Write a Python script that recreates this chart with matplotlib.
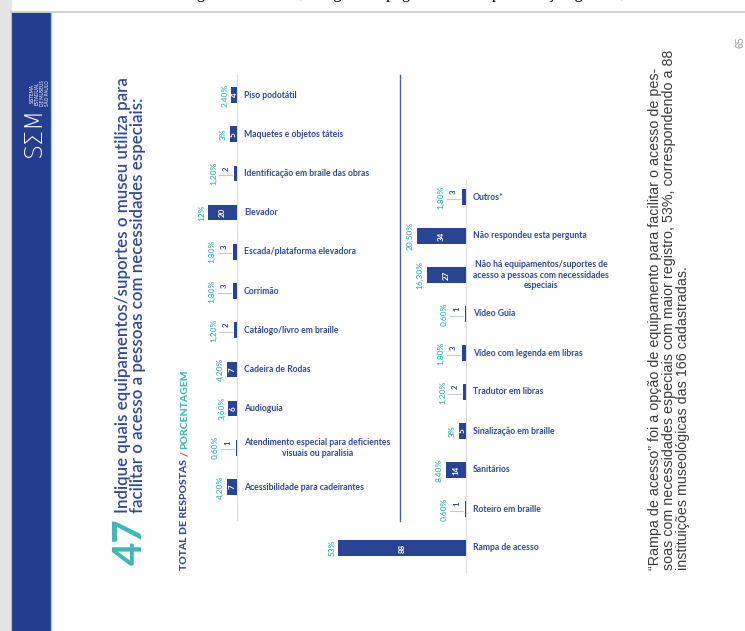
import matplotlib
matplotlib.use("Agg")
import matplotlib.pyplot as plt
from matplotlib.patches import Rectangle

# ---------------- data ----------------
left_cats = ["Piso podotátil", "Maquetes e objetos táteis", "Identificação em braile das obras",
             "Elevador", "Escada/plataforma elevadora", "Corrimão", "Catálogo/livro em braille",
             "Cadeira de Rodas", "Audioguia",
             "Atendimento especial para deficientes\nvisuais ou paralisia",
             "Acessibilidade para cadeirantes"]
left_vals = [4, 5, 2, 20, 3, 3, 2, 7, 6, 1, 7]
left_pcts = ["2,40%", "3%", "1,20%", "12%", "1,80%", "1,80%", "1,20%", "4,20%", "3,60%", "0,60%", "4,20%"]

right_cats = ["Outros*", "Não respondeu esta pergunta",
              "Não há equipamentos/suportes de\nacesso a pessoas com necessidades\nespeciais",
              "Vídeo Guia", "Vídeo com legenda em libras", "Tradutor em libras",
              "Sinalização em braille", "Sanitários", "Roteiro em braille", "Rampa de acesso"]
right_vals = [3, 34, 27, 1, 3, 2, 5, 14, 1, 88]
right_pcts = ["1,80%", "20,50%", "16,30%", "0,60%", "1,80%", "1,20%", "3%", "8,40%", "0,60%", "53%"]

title_num = "47"
title_text = ("Indique quais equipamentos/suportes o museu utiliza para\n"
              "facilitar o acesso a pessoas com necessidades especiais:")
paragraph = ("\u201cRampa de acesso\u201d foi a opção de equipamento para facilitar o acesso de pes-\n"
             "soas com necessidades especiais com maior registro, 53%, correspondendo a 88\n"
             "instituições museológicas das 166 cadastradas.")
page_num = "65"

# ---------------- style ----------------
W, H = 745, 631
BAR = "#2a4494"
LABEL = "#30489a"
TEAL = "#3fb7b4"
FONT = "Lato"
PXU = 1.45  # pixels per unit of value

fig = plt.figure(figsize=(W / 100, H / 100), dpi=100)
fig.patch.set_facecolor("white")

bg = fig.add_axes([0, 0, 1, 1])
bg.set_xlim(0, W)
bg.set_ylim(H, 0)
bg.axis("off")

# page frame
bg.add_patch(Rectangle((0, 0), 11, H, color="#e4e4e4", zorder=0))
bg.plot([11, 11], [12, H], color="#bdbdbd", lw=0.8)
bg.plot([11, W], [12, 12], color="#c8c8c8", lw=1.2)
bg.add_patch(Rectangle((12, 13), 38, H, color="#253d8e", zorder=1))
bg.plot([50.5, 50.5], [13, H], color="#7fd3d6", lw=1.0, zorder=2)

# clipped caption of previous line (only descenders visible, as in the reference)
bg.text(150, -2.5, "Fonte: guia de museus; imagem da página com a representação gráfica,",
        family="Liberation Serif", fontsize=12, color="black", va="baseline", ha="left")

# logo
bg.text(34, 157, "S\u03a3M", rotation=90, color="white", fontsize=17, family="DejaVu Sans",
        ha="center", va="bottom", fontweight="light")
bg.text(40, 106, "SISTEMA\nESTADUAL\nDE MUSEUS\nSÃO PAULO", rotation=90, color="white",
        fontsize=3.3, family=FONT, ha="center", va="bottom", linespacing=1.0)

# title
bg.text(112, 565, title_num, rotation=90, color=TEAL, fontsize=29, family=FONT,
        fontweight="bold", ha="left", va="bottom")
bg.text(115, 513, title_text, rotation=90, color="#2f4a9a", fontsize=12.2, family=FONT,
        fontweight="semibold", ha="left", va="bottom", linespacing=0.9, multialignment="left")

# subtitle in three colours
fig.canvas.draw()
r = fig.canvas.get_renderer()
y = 570
for s, c in [("TOTAL DE RESPOSTAS ", "#2f4a9a"), ("/ ", "#e0403a"), ("PORCENTAGEM", TEAL)]:
    t = bg.text(180, y, s, rotation=90, color=c, fontsize=7.5, family=FONT, fontweight="black",
                ha="left", va="bottom")
    ext = t.get_window_extent(r)
    y -= ext.height

# separator line
bg.plot([400, 400], [75, 521], color="#4a5fae", lw=1.0)

# paragraph
bg.text(648, 570, paragraph, rotation=90, color="#3a3a3a", fontsize=10.3,
        family="Liberation Sans", ha="left", va="bottom", linespacing=1.0, multialignment="left")
bg.text(735, 48, page_num, rotation=90, color="#9a9a9a", fontsize=7.5, family="Liberation Sans",
        ha="left", va="bottom")


def px_axes(x0, x1, y0, y1):
    return fig.add_axes([x0 / W, 1 - y1 / H, (x1 - x0) / W, (y1 - y0) / H])


def column(ax, cats, vals, pcts, x0, x1, y0, y1, yfirst, step, line_y):
    n = len(cats)
    pos = list(range(n))
    ax.barh(pos, vals, height=0.40, color=BAR, zorder=2)
    ax.set_xlim((x1 - x0) / PXU, 0)
    ax.set_ylim((y1 - yfirst) / step, (y0 - yfirst) / step)
    ax.axis("off")
    ax.plot([0, 0], [(line_y[0] - yfirst) / step, (line_y[1] - yfirst) / step],
            color="#dedede", lw=0.9, zorder=1, clip_on=False)
    for i, (c, v, p) in enumerate(zip(cats, vals, pcts)):
        ax.annotate(c, xy=(0, i), xytext=(7, 0), textcoords="offset pixels", ha="left",
                    va="center", multialignment="center", fontsize=6.2, family=FONT,
                    fontweight="bold", color=LABEL, annotation_clip=False, linespacing=1.25)
        if v >= 4:
            ax.text(v / 2, i, str(v), rotation=90, ha="center", va="center", color="white",
                    fontsize=5.8, family=FONT, fontweight="bold")
            ax.annotate(p, xy=(v, i), xytext=(-3, 0), textcoords="offset pixels", rotation=90,
                        ha="right", va="center", color=TEAL, fontsize=6.0, family=FONT,
                        fontweight="semibold", annotation_clip=False)
        else:
            ax.plot([v + 2 / PXU, v + 15 / PXU], [i + 1.5 / step, i + 1.5 / step],
                    color="#c9c9c9", lw=0.8, clip_on=False)
            ax.annotate(str(v), xy=(v, i), xytext=(-8, 5), textcoords="offset pixels",
                        rotation=90, ha="center", va="center", color=LABEL, fontsize=5.6,
                        family=FONT, fontweight="bold", annotation_clip=False)
            ax.annotate(p, xy=(v, i), xytext=(-17, 0), textcoords="offset pixels", rotation=90,
                        ha="right", va="center", color=TEAL, fontsize=6.0, family=FONT,
                        fontweight="semibold", annotation_clip=False)


axL = px_axes(150, 237, 75, 520)
column(axL, left_cats, left_vals, left_pcts, 150, 237, 75, 520, 95, 39.2, (75, 520))

axR = px_axes(300, 466, 175, 580)
column(axR, right_cats, right_vals, right_pcts, 300, 466, 175, 580, 197, 39.0, (180, 572))

fig.savefig("out.png", dpi=100, facecolor="white")
